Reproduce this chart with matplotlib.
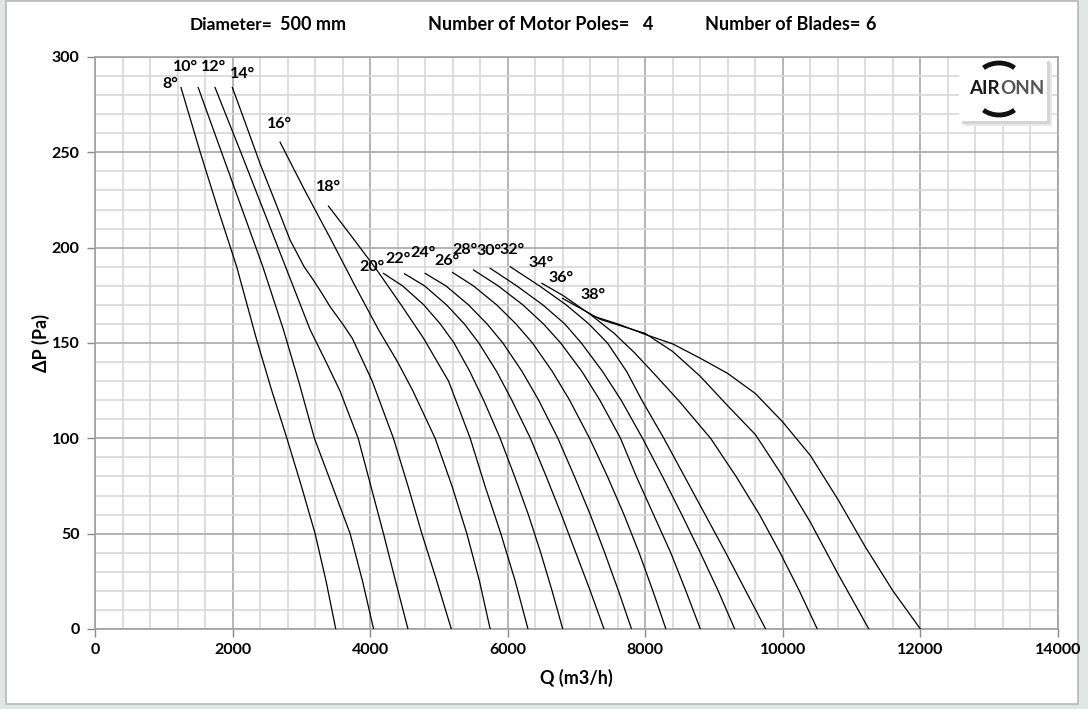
import numpy as np
import matplotlib.pyplot as plt
from matplotlib.patches import FancyBboxPatch, Rectangle, Arc

plt.rcParams['font.family'] = ['Lato', 'DejaVu Sans']
plt.rcParams['font.weight'] = 'bold'

# blade angle curves, Q (m3/h) and dP (Pa)
angles = ['8°', '10°', '12°', '14°', '16°', '18°', '20°', '22°',
          '24°', '26°', '28°', '30°', '32°', '34°', '36°', '38°']

q08 = [1250, 1530, 1790, 2060, 2340, 2570, 2790, 3000, 3200, 3360, 3500]
p08 = [284, 250, 220, 190, 153, 125, 100, 75, 50, 25, 0]
q10 = [1500, 1840, 2140, 2440, 2739, 2960, 3190, 3450, 3709, 3890, 4050]
p10 = [284, 250, 220, 190, 157, 130, 100, 75, 50, 25, 0]
q12 = [1745, 2120, 2445, 2770, 3127, 3360, 3560, 3826, 4010, 4194, 4370, 4550]
p12 = [284, 250, 220, 190, 157, 140, 125, 100, 75, 50, 25, 0]
q14 = [1997, 2200, 2400, 2620, 2836, 3040, 3175, 3300, 3418, 3600, 3740, 4030, 4339, 4550, 4752,
       4970, 5180]
p14 = [284, 264, 244, 224, 204, 190, 183, 176, 169, 160, 152.5, 130, 100, 75, 50, 25, 0]
q16 = [2691, 3050, 3420, 3780, 4121, 4400, 4620, 4945, 5190, 5406, 5590, 5745]
p16 = [255.3, 230, 205, 180, 157, 140, 125, 100, 75, 50, 25, 0]
q18 = [3394, 3750, 4097, 4450, 4776, 5140, 5455, 5670, 5900, 6110, 6295]
p18 = [221.8, 205, 188.3, 170, 152.5, 130, 100, 75, 50, 25, 0]
q20 = [4194, 4470, 4780, 5020, 5220, 5450, 5650, 5890, 6100, 6300, 6480, 6645, 6800]
p20 = [186.5, 180, 170, 160, 150, 135, 120, 100, 80, 60, 40, 20, 0]
q22 = [4500, 4790, 5110, 5370, 5580, 5840, 6060, 6330, 6560, 6780, 6990, 7200, 7400]
p22 = [186.3, 180, 170, 160, 150, 135, 120, 100, 80, 60, 40, 20, 0]
q24 = [4800, 5100, 5430, 5700, 5930, 6210, 6450, 6730, 6970, 7200, 7410, 7610, 7800]
p24 = [186.5, 180, 170, 160, 150, 135, 120, 100, 80, 60, 40, 20, 0]
q26 = [5198, 5500, 5840, 6120, 6360, 6650, 6900, 7190, 7450, 7690, 7910, 8110, 8300]
p26 = [187, 180, 170, 160, 150, 135, 120, 100, 80, 60, 40, 20, 0]
q28 = [5503, 5860, 6220, 6520, 6770, 7080, 7340, 7640, 7870, 8120, 8370, 8590, 8800]
p28 = [188.3, 180, 170, 160, 150, 135, 120, 100, 80, 60, 40, 20, 0]
q30 = [5745, 6130, 6510, 6830, 7070, 7380, 7650, 7960, 8250, 8530, 8800, 9060, 9300]
p30 = [189.2, 180, 170, 160, 150, 135, 120, 100, 80, 60, 40, 20, 0]
q32 = [6036, 6460, 6850, 7180, 7450, 7730, 7950, 8270, 8570, 8870, 9170, 9460, 9750]
p32 = [190, 180, 170, 160, 150, 135, 120, 100, 80, 60, 40, 20, 0]
q34 = [6497, 6800, 7200, 7550, 7840, 8100, 8480, 8950, 9320, 9660, 9960, 10240, 10500]
p34 = [181.3, 175, 165, 155, 145, 135, 120, 100, 80, 60, 40, 20, 0]
q36 = [6797, 7345, 8000, 8400, 8800, 9200, 9600, 10000, 10200, 10400, 10800, 11250]
p36 = [173.4, 162.4, 155, 145.5, 132.5, 117, 102, 80, 68, 56, 29, 0]
q38 = [7250, 7600, 8000, 8400, 8800, 9200, 9600, 10000, 10400, 10800, 11200, 11600, 12000]
p38 = [164, 160, 154.5, 149.5, 142, 134, 123.5, 108.5, 91, 68, 43, 20, 0]

q_curves = [q08, q10, q12, q14, q16, q18, q20, q22, q24, q26, q28, q30, q32, q34, q36, q38]
p_curves = [p08, p10, p12, p14, p16, p18, p20, p22, p24, p26, p28, p30, p32, p34, p36, p38]

# label anchor points (data coords)
label_q = [1090, 1310, 1720, 2140, 2680, 3400, 4030, 4410, 4770, 5110, 5380, 5730, 6070, 6490, 6780, 7240]
label_p = [286, 295, 295, 291, 265, 232, 190, 194, 197, 193, 199, 198, 199, 192, 184, 175]

fig = plt.figure(figsize=(10.88, 7.09), dpi=100)
fig.patch.set_facecolor('#dfe6e3')
fig.patches.append(FancyBboxPatch((6 / 1088, 5 / 709), 1072 / 1088, 703 / 709,
                                  boxstyle='square,pad=0', transform=fig.transFigure,
                                  facecolor='white', edgecolor='#b4b9b7', linewidth=1.2,
                                  zorder=-10))

ax = fig.add_axes([95 / 1088, 1 - 629 / 709, 963 / 1088, 572 / 709])
ax.set_facecolor('none')

for q, p in zip(q_curves, p_curves):
    ax.plot(q, p, color='black', linewidth=0.9, solid_joinstyle='round', zorder=3)

for name, lq, lp in zip(angles, label_q, label_p):
    ax.text(lq, lp, name, ha='center', va='center', fontsize=11.5, fontweight='bold', zorder=4)

ax.set_xlim(0, 14000)
ax.set_ylim(0, 300)
ax.set_xticks(np.arange(0, 14001, 2000))
ax.set_yticks(np.arange(0, 301, 50))
ax.set_xticks(np.arange(0, 14001, 400), minor=True)
ax.set_yticks(np.arange(0, 301, 10), minor=True)
ax.grid(which='minor', color='#d8d8d8', linewidth=1.2)
ax.grid(which='major', color='#a8a8a8', linewidth=1.2)
ax.set_axisbelow(True)
ax.tick_params(which='minor', length=0)
ax.tick_params(which='major', length=6, color='#888888', width=1, labelsize=11.5)
ax.tick_params(axis='y', pad=5)
ax.tick_params(axis='x', pad=4)
for lab in ax.get_xticklabels() + ax.get_yticklabels():
    lab.set_fontweight('bold')
for s in ax.spines.values():
    s.set_color('#a0a0a0')
    s.set_linewidth(1.2)

ax.set_xlabel('Q (m3/h)', fontsize=13, fontweight='bold', labelpad=9)
ax.set_ylabel('ΔP (Pa)', fontsize=13, fontweight='bold', labelpad=1)

# header
fig.text(190 / 1088, 1 - 25 / 709, 'Diameter=', fontsize=12.5, fontweight='bold', va='center')
fig.text(280 / 1088, 1 - 24 / 709, '500 mm', fontsize=13, fontweight='bold', va='center')
fig.text(428 / 1088, 1 - 25 / 709, 'Number of Motor Poles=', fontsize=13, fontweight='bold', va='center')
fig.text(643 / 1088, 1 - 24 / 709, '4', fontsize=13, fontweight='bold', va='center')
fig.text(705 / 1088, 1 - 25 / 709, 'Number of Blades=', fontsize=13, fontweight='bold', va='center')
fig.text(865 / 1088, 1 - 24 / 709, '6', fontsize=13, fontweight='bold', va='center')

# logo
for off, col in [(5, '#e8e8e8'), (3, '#d4d4d4')]:
    fig.patches.append(Rectangle(((959 + off) / 1088, 1 - (121 + off) / 709), 88 / 1088, 63 / 709,
                                 transform=fig.transFigure, facecolor=col, edgecolor='none', zorder=5))
fig.patches.append(Rectangle((959 / 1088, 1 - 121 / 709), 88 / 1088, 63 / 709,
                             transform=fig.transFigure, facecolor='white', edgecolor='none', zorder=6))
fig.text(1000 / 1088, 1 - 89 / 709, 'AIR', fontsize=13.5, fontweight='bold', ha='right', va='center',
         color='#1a1a1a', zorder=7)
fig.text(1000 / 1088, 1 - 89 / 709, 'ONN', fontsize=13.5, fontweight='bold', ha='left', va='center',
         color='#555555', zorder=7)
fig.patches.append(Arc((999 / 1088, 1 - 80 / 709), 44 / 1088, 34 / 709, theta1=50, theta2=130,
                       transform=fig.transFigure, color='#111111', linewidth=3.5, zorder=7))
fig.patches.append(Arc((999 / 1088, 1 - 98 / 709), 44 / 1088, 34 / 709, theta1=230, theta2=310,
                       transform=fig.transFigure, color='#111111', linewidth=3.5, zorder=7))

fig.savefig('out.png', dpi=100, facecolor=fig.get_facecolor())
